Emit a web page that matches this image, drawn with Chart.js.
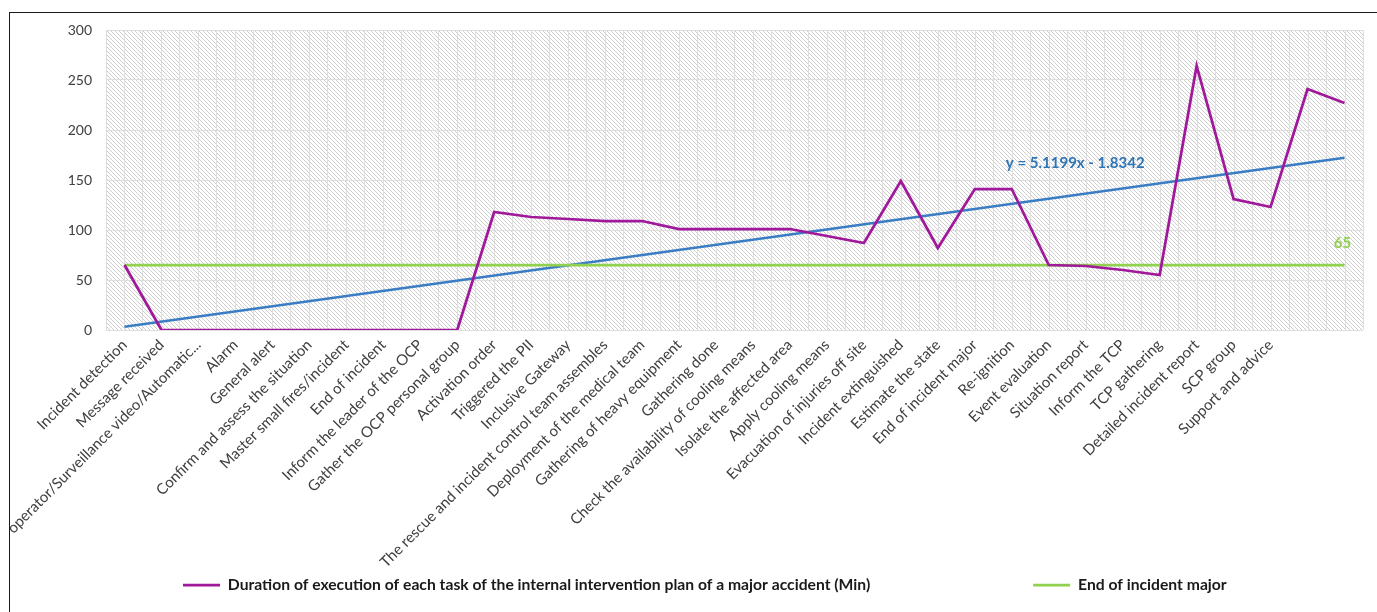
<!DOCTYPE html>
<html>
<head>
<meta charset="utf-8">
<script src="https://cdn.jsdelivr.net/npm/chart.js@4.4.1/dist/chart.umd.min.js"></script>
<style>
  html, body { margin: 0; padding: 0; background: #ffffff; overflow: hidden; }
  #frame { position: absolute; left: 9px; top: 12px; width: 1500px; height: 700px;
           border-left: 1px solid #1a1a1a; border-top: 1px solid #1a1a1a; }
  #wrap { position: absolute; left: 0; top: 0; width: 1377px; height: 612px; }
</style>
</head>
<body>
<div id="frame"></div>
<div id="wrap"><canvas id="c" width="1377" height="612"></canvas></div>
<script>
// ---- data ----
const categories = [
  'Incident detection', 'Message received', 'operator/Surveillance video/Automatic...', 'Alarm',
  'General alert', 'Confirm and assess the situation', 'Master small fires/incident', 'End of incident',
  'Inform the leader of the OCP', 'Gather the OCP personal group', 'Activation order', 'Triggered the PII',
  'Inclusive Gateway', 'The rescue and incident control team assembles', 'Deployment of the medical team',
  'Gathering of heavy equipment', 'Gathering done', 'Check the availability of cooling means',
  'Isolate the affected area', 'Apply cooling means', 'Evacuation of injuries off site',
  'Incident extinguished', 'Estimate the state', 'End of incident major', 'Re-ignition',
  'Event evaluation', 'Situation report', 'Inform the TCP', 'TCP gathering', 'Detailed incident report',
  'SCP group', 'Support and advice', '', ''
];
const durationValues = [65, 0, 0, 0, 0, 0, 0, 0, 0, 0, 118, 113, 111, 109, 109, 101, 101, 101, 101, 94,
  87, 149, 82, 141, 141, 65, 64, 60, 55, 264, 131, 123, 241, 227];
const thresholdValues = [65, 65, 65, 65, 65, 65, 65, 65, 65, 65, 65, 65, 65, 65, 65, 65, 65,
  65, 65, 65, 65, 65, 65, 65, 65, 65, 65, 65, 65, 65, 65, 65, 65, 65];
// linear trend line: end values (straight line between them)
const trendValues = [3.3, null, null, null, null, null, null, null, null, null, null, null, null, null,
  null, null, null, null, null, null, null, null, null, null, null, null, null, null, null, null,
  null, null, null, 172.2];
const yTicks = [0, 50, 100, 150, 200, 250, 300];
const durationLabel = 'Duration of execution of each task of the internal intervention plan of a major accident (Min)';
const thresholdLabel = 'End of incident major';
const trendEquation = 'y = 5.1199x - 1.8342';
const thresholdText = '65';

const FONT = 'Lato, "Open Sans", "DejaVu Sans", sans-serif';
const LEGEND_H = 30;

// hatch pattern for the plot area
function makeHatch() {
  const s = 4;
  const p = document.createElement('canvas');
  p.width = s; p.height = s;
  const g = p.getContext('2d');
  g.fillStyle = '#ffffff';
  g.fillRect(0, 0, s, s);
  g.strokeStyle = '#cfcfcf';
  g.lineWidth = 1;
  g.beginPath();
  g.moveTo(-1, -1); g.lineTo(s + 1, s + 1);
  g.moveTo(-1 - s, -1); g.lineTo(1, s + 1);
  g.moveTo(s - 1, -1); g.lineTo(2 * s + 1, s + 1);
  g.stroke();
  return p;
}

const hatchPlugin = {
  id: 'hatch',
  beforeLayout(chart) {
    // compact legend box: keep the wide item spacing but not the tall box
    const lg = chart.legend;
    if (!lg || lg._compact) return;
    const fit = lg.fit;
    lg.fit = function () {
      const mw = this.maxWidth;
      this.maxWidth = mw + 400;
      fit.call(this);
      this.maxWidth = mw;
      this.width = mw;
      this.height = LEGEND_H;
    };
    const draw = lg.draw;
    lg.draw = function () {
      const t = this.top, r = this.right;
      const pad = this.options.labels.padding;
      const fs = this.options.labels.font.size;
      this.top = t + LEGEND_H / 2 - fs / 2 - pad;
      this.right = r + 400;
      draw.call(this);
      this.top = t;
      this.right = r;
    };
    lg._compact = true;
  },
  beforeDraw(chart) {
    const {ctx, chartArea: a} = chart;
    ctx.save();
    ctx.fillStyle = ctx.createPattern(makeHatch(), 'repeat');
    ctx.fillRect(a.left, a.top, a.right - a.left, a.bottom - a.top);
    ctx.restore();
  },
  beforeDatasetsDraw(chart) {
    // extra vertical grid lines at the category centres
    const {ctx, chartArea: a, scales: {x}} = chart;
    ctx.save();
    ctx.strokeStyle = '#dedede';
    ctx.lineWidth = 1;
    ctx.beginPath();
    for (let i = 0; i < categories.length; i++) {
      const px = Math.round(x.getPixelForValue(i)) + 0.5;
      ctx.moveTo(px, a.top);
      ctx.lineTo(px, a.bottom);
    }
    ctx.stroke();
    ctx.restore();
  },
  afterDatasetsDraw(chart) {
    const {ctx, scales: {x, y}} = chart;
    ctx.save();
    const meta = chart.getDatasetMeta(1);
    const last = meta.data[meta.data.length - 1];
    ctx.font = 'bold 15px ' + FONT;
    ctx.fillStyle = '#92d050';
    ctx.textAlign = 'center';
    ctx.textBaseline = 'middle';
    ctx.fillText(thresholdText, last.x - 2, last.y - 22);
    ctx.fillStyle = '#2e75b6';
    ctx.fillText(trendEquation, (x.getPixelForValue(25) + x.getPixelForValue(26)) / 2 + 8, y.getPixelForValue(167));
    ctx.restore();
  }
};

new Chart(document.getElementById('c'), {
  type: 'line',
  data: {
    labels: categories,
    datasets: [
      {
        label: durationLabel,
        data: durationValues,
        borderColor: '#a0199b',
        backgroundColor: '#a0199b',
        borderWidth: 2.75,
        pointRadius: 0,
        pointStyle: 'line',
        tension: 0
      },
      {
        label: thresholdLabel,
        data: thresholdValues,
        borderColor: '#92d050',
        backgroundColor: '#92d050',
        borderWidth: 2.75,
        pointRadius: 0,
        pointStyle: 'line',
        tension: 0
      },
      {
        label: 'trend',
        data: trendValues,
        borderColor: '#3a7dc4',
        backgroundColor: '#3a7dc4',
        borderWidth: 2.5,
        pointRadius: 0,
        spanGaps: true,
        tension: 0
      }
    ]
  },
  options: {
    responsive: false,
    animation: false,
    layout: { padding: { left: 20, right: 0, top: 30, bottom: 12 } },
    plugins: {
      tooltip: { enabled: false },
      legend: {
        position: 'bottom',
        align: 'start',
        labels: {
          filter: (item) => item.datasetIndex !== 2,
          usePointStyle: true,
          pointStyle: 'line',
          pointStyleWidth: 37,
          boxWidth: 37,
          padding: 163,
          color: '#1a1a1a',
          font: { family: FONT, size: 15.7, weight: 'bold' }
        }
      }
    },
    scales: {
      x: {
        offset: true,
        grid: { display: true, offset: true, color: '#dedede', drawTicks: false },
        border: { display: false },
        ticks: {
          autoSkip: false, maxRotation: 45, minRotation: 45, padding: 6,
          color: '#404040', font: { family: FONT, size: 15 }
        },
        afterFit: (s) => { s.height = 240; }
      },
      y: {
        min: 0, max: 300,
        afterBuildTicks: (s) => { s.ticks = yTicks.map(v => ({ value: v })); },
        grid: { color: '#dedede', drawTicks: false },
        border: { display: false },
        ticks: { padding: 14, color: '#404040', font: { family: FONT, size: 14 } },
        afterFit: (s) => { s.width = 86; }
      },
      yRight: {
        position: 'right',
        display: true,
        grid: { display: false, drawTicks: false },
        border: { display: false },
        ticks: { display: false },
        afterFit: (s) => { s.width = 14; }
      }
    }
  },
  plugins: [hatchPlugin]
});
</script>
</body>
</html>
